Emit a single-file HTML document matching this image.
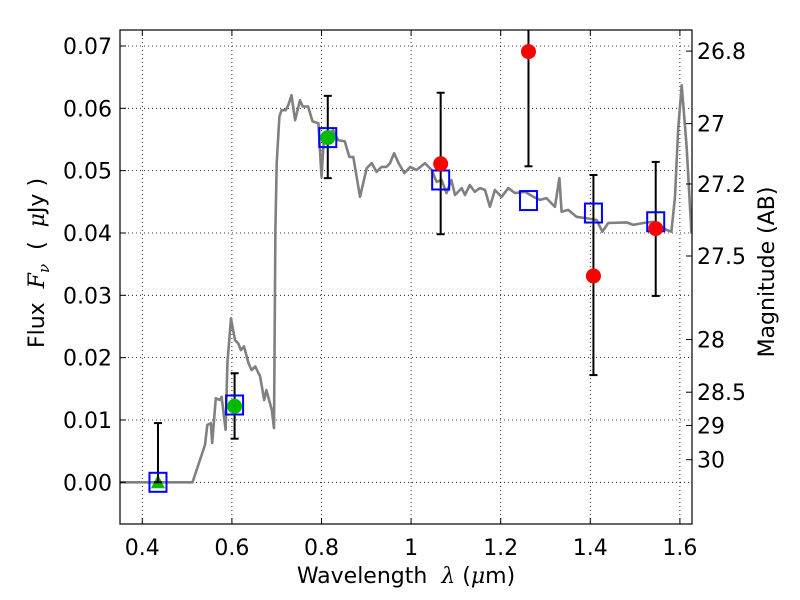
<!DOCTYPE html>
<html><head><meta charset="utf-8"><style>
html,body{margin:0;padding:0;background:#fff;}
svg{display:block;font-family:"DejaVu Sans","Liberation Sans",sans-serif;}
.t{white-space:pre;}
.m{font-family:"DejaVu Serif","Liberation Serif",serif;font-style:italic;}
</style></head><body>
<svg id="chart" width="800" height="600" viewBox="0 0 800 600">
<rect width="800" height="600" fill="#fff"/>
<g id="grid"></g>
<g id="spec"></g>
<g id="marks"></g>
<rect x="120" y="30" width="572" height="494" fill="none" stroke="#000" stroke-width="1.2"/>
<g id="axes"></g>
<text class="t" x="406" y="583" font-size="22" text-anchor="middle">Wavelength  <tspan class="m">λ</tspan> (<tspan class="m">μ</tspan>m)</text>
<text class="t" transform="translate(44,263) rotate(-90)" font-size="22" text-anchor="middle">Flux  <tspan class="m">F</tspan><tspan class="m" font-size="15" dy="5">ν</tspan><tspan dy="-5">  (  </tspan><tspan class="m">μ</tspan>Jy )</text>
<text class="t" transform="translate(774,272) rotate(-90)" font-size="22" text-anchor="middle">Magnitude (AB)</text>
</svg>
<script>
const specWave=[0.35,0.512,0.54,0.545,0.553,0.556,0.564,0.573,0.577,0.586,0.59,0.598,0.607,0.614,0.62,0.627,0.637,0.644,0.652,0.663,0.672,0.677,0.689,0.694,0.697,0.7,0.706,0.711,0.72,0.726,0.733,0.741,0.752,0.758,0.77,0.78,0.793,0.8,0.806,0.819,0.826,0.837,0.852,0.862,0.871,0.886,0.901,0.912,0.923,0.934,0.945,0.953,0.962,0.972,0.985,0.998,1.012,1.031,1.046,1.057,1.068,1.079,1.09,1.098,1.113,1.12,1.131,1.142,1.154,1.165,1.176,1.187,1.202,1.217,1.232,1.254,1.273,1.288,1.302,1.321,1.331,1.336,1.351,1.369,1.388,1.414,1.427,1.44,1.481,1.496,1.518,1.54,1.57,1.581,1.589,1.596,1.604,1.615,1.626];
const specFlux=[0,0,0.006,0.0092,0.0095,0.0063,0.0135,0.0132,0.0137,0.0084,0.0191,0.0263,0.0228,0.0223,0.0212,0.0218,0.0191,0.018,0.0186,0.017,0.0132,0.0148,0.0116,0.0087,0.0405,0.0512,0.0587,0.0597,0.0597,0.0605,0.0621,0.0581,0.0613,0.0603,0.0603,0.0579,0.0576,0.049,0.056,0.056,0.0565,0.0549,0.0547,0.0522,0.0522,0.0458,0.0504,0.0512,0.0498,0.0506,0.0506,0.0512,0.0528,0.0512,0.0496,0.0506,0.0501,0.0512,0.0501,0.0482,0.0485,0.0464,0.0485,0.0461,0.0472,0.0461,0.0477,0.0466,0.0472,0.0469,0.0442,0.0469,0.0458,0.0472,0.0464,0.0466,0.0458,0.0453,0.0456,0.0442,0.0488,0.0434,0.0437,0.0426,0.0424,0.0421,0.0402,0.0416,0.0417,0.0413,0.0416,0.0418,0.0405,0.0402,0.0458,0.0565,0.0637,0.0539,0.0399];
const modelWave=[0.435,0.606,0.814,1.066,1.262,1.407,1.546];
const modelFlux=[0,0.0124,0.0553,0.0485,0.0452,0.0432,0.0418];
const greenWave=[0.606,0.814];
const greenFlux=[0.0122,0.0553];
const greenLo=[0.007,0.0488];
const greenHi=[0.0175,0.062];
const triWave=[0.435];
const triFlux=[0];
const triLo=[0];
const triHi=[0.0095];
const redWave=[1.066,1.262,1.407,1.546];
const redFlux=[0.0511,0.0691,0.0331,0.0407];
const redLo=[0.0398,0.0507,0.0172,0.0299];
const redHi=[0.0625,0.08,0.0493,0.0514];
const xTicks=[0.4,0.6,0.8,1.0,1.2,1.4,1.6];
const xTickLabels=["0.4","0.6","0.8","1","1.2","1.4","1.6"];
const yTicks=[0,0.01,0.02,0.03,0.04,0.05,0.06,0.07];
const yTickLabels=["0.00","0.01","0.02","0.03","0.04","0.05","0.06","0.07"];
const magTicks=[26.8,27,27.2,27.5,28,28.5,29,30];
const magTickLabels=["26.8","27","27.2","27.5","28","28.5","29","30"];

const NS="http://www.w3.org/2000/svg";
const X=v=>142.3+(v-0.4)*448;
const Y=v=>482.3-v*6233;
function mk(tag,parent,attrs){const e=document.createElementNS(NS,tag);for(const k in attrs)e.setAttribute(k,attrs[k]);parent.appendChild(e);return e;}
const grid=document.getElementById('grid'),axes=document.getElementById('axes'),spec=document.getElementById('spec'),marks=document.getElementById('marks');

xTicks.forEach((t,i)=>{
  const l=mk('line',grid,{x1:X(t),x2:X(t),y1:30,y2:524,stroke:'#000','stroke-width':0.8,'stroke-dasharray':'1,3'});
  
  
  mk('line',axes,{x1:X(t),x2:X(t),y1:524,y2:518,stroke:'#000'});
  mk('line',axes,{x1:X(t),x2:X(t),y1:30,y2:36,stroke:'#000'});
  const tx=mk('text',axes,{x:X(t),y:555,'font-size':22,'text-anchor':'middle'});
  tx.textContent=xTickLabels[i];
  
  
});
yTicks.forEach((t,i)=>{
  const l=mk('line',grid,{x1:120,x2:692,y1:Y(t),y2:Y(t),stroke:'#000','stroke-width':0.8,'stroke-dasharray':'1,3'});
  
  
  mk('line',axes,{x1:120,x2:126,y1:Y(t),y2:Y(t),stroke:'#000'});
  const tx=mk('text',axes,{x:112,y:Y(t)+8,'font-size':22,'text-anchor':'end'});
  tx.textContent=yTickLabels[i];
  
  
});
magTicks.forEach((m,i)=>{
  const f=Math.pow(10,(23.9-m)/2.5);
  const y=Y(f);
  mk('line',axes,{x1:686,x2:692,y1:y,y2:y,stroke:'#000'});
  const tx=mk('text',axes,{x:697,y:y+8,'font-size':22,'text-anchor':'start'});
  tx.textContent=magTickLabels[i];
  
  
});

const clip=mk('clipPath',document.getElementById('chart'),{id:'pc'});
mk('rect',clip,{x:120,y:30,width:572,height:494});
spec.setAttribute('clip-path','url(#pc)');
marks.setAttribute('clip-path','url(#pc)');
const p=mk('path',spec,{d:specWave.map((w,i)=>(i?'L':'M')+X(w).toFixed(1)+' '+Y(specFlux[i]).toFixed(1)).join(''),fill:'none',stroke:'#808080','stroke-width':2.6,'stroke-linejoin':'round'});



function errbar(w,lo,hi){
  const x=X(w);
  mk('line',marks,{x1:x,x2:x,y1:Y(lo),y2:Y(hi),stroke:'#000','stroke-width':2});
  mk('line',marks,{x1:x-4,x2:x+4,y1:Y(lo),y2:Y(lo),stroke:'#000','stroke-width':2});
  mk('line',marks,{x1:x-4,x2:x+4,y1:Y(hi),y2:Y(hi),stroke:'#000','stroke-width':2});
}
triWave.forEach((w,i)=>{
  const x=X(w),y=Y(triFlux[i]);
  const t=mk('polygon',marks,{points:`${x},${y-8} ${x-7},${y+6} ${x+7},${y+6}`,fill:'#00bb00'});
  
  
  errbar(w,triLo[i],triHi[i]);
});
greenWave.forEach((w,i)=>{
  errbar(w,greenLo[i],greenHi[i]);
});
redWave.forEach((w,i)=>{
  errbar(w,redLo[i],redHi[i]);
});
modelWave.forEach((w,i)=>{
  const r=mk('rect',marks,{x:X(w)-8.5,y:Y(modelFlux[i])-9.5,width:17,height:19,fill:'none',stroke:'#0000ff','stroke-width':2});
  
  
});
greenWave.forEach((w,i)=>{
  const c=mk('circle',marks,{cx:X(w),cy:Y(greenFlux[i]),r:7.5,fill:'#00bb00'});
  
  
});
redWave.forEach((w,i)=>{
  const c=mk('circle',marks,{cx:X(w),cy:Y(redFlux[i]),r:7.5,fill:'#ff0000'});
  
  
});
</script>
</body></html>
